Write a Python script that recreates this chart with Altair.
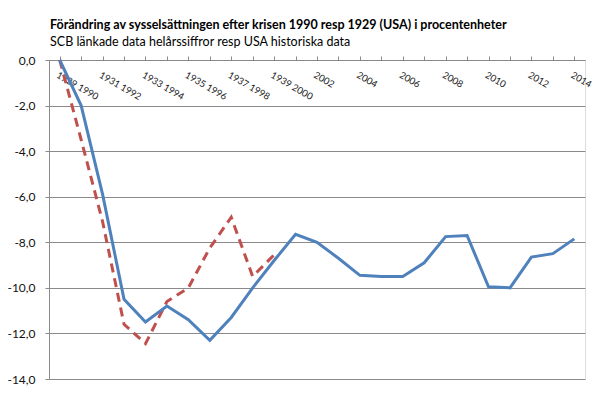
import json
import altair as alt
import pandas as pd

categories = ["1929 1990", "1930 1991", "1931 1992", "1932 1993", "1933 1994", "1934 1995",
              "1935 1996", "1936 1997", "1937 1998", "1938 1999", "1939 2000", "2001", "2002",
              "2003", "2004", "2005", "2006", "2007", "2008", "2009", "2010", "2011", "2012",
              "2013", "2014"]
shown_labels = ["1929 1990", "1931 1992", "1933 1994", "1935 1996", "1937 1998", "1939 2000",
                "2002", "2004", "2006", "2008", "2010", "2012", "2014"]
sverige = [0.0, -2.0, -5.9, -10.5, -11.5, -10.8, -11.4, -12.3, -11.3, -10.0, -8.8, -7.65,
           -8.0, -8.7, -9.45, -9.5, -9.5, -8.9, -7.75, -7.7, -9.95, -10.0, -8.65, -8.5, -7.85]
usa = [0.0, -3.5, -7.1, -11.6, -12.45, -10.6, -10.0, -8.25, -6.9, -9.5, -8.55]
y_ticks = [0, -2, -4, -6, -8, -10, -12, -14]

FONT = "Lato"
GRID = "#8a8a8a"

df_se = pd.DataFrame({"cat": categories, "v": sverige})
df_us = pd.DataFrame({"cat": categories[:len(usa)], "v": usa})

label_expr = "indexof(" + json.dumps(shown_labels) + ", datum.value) >= 0 ? datum.label : ''"

x_enc = alt.X("cat:N", sort=categories,
              scale=alt.Scale(domain=categories, paddingInner=0, paddingOuter=0.5),
              axis=alt.Axis(orient="top", title=None, labelAngle=30, labelAlign="left",
                            labelBaseline="middle", labelPadding=-18, labelOffset=-3,
                            labelFontSize=9.5, labelFont=FONT, labelColor="#222222",
                            labelOverlap=False, labelExpr=label_expr, bandPosition=0,
                            tickSize=4, tickColor=GRID, domainColor=GRID, grid=False))
y_enc = alt.Y("v:Q", scale=alt.Scale(domain=[-14, 0], nice=False),
              axis=alt.Axis(title=None, values=y_ticks, tickSize=4, tickColor=GRID,
                            domainColor=GRID, gridColor=GRID, gridWidth=1,
                            labelFontSize=12, labelFont=FONT, labelColor="#111111", labelPadding=10,
                            labelExpr="replace(replace(format(datum.value, '.1f'), '.', ','), '\u2212', '-')"))

blue = alt.Chart(df_se).mark_line(color="#4F81BD", strokeWidth=3, clip=False).encode(x=x_enc, y=y_enc)
red = alt.Chart(df_us).mark_line(color="#C0504D", strokeWidth=3, strokeDash=[9, 6], clip=False).encode(x=x_enc, y=y_enc)

chart = alt.layer(red, blue).properties(
    width=536, height=319,
    autosize=alt.AutoSizeParams(type="none"),
    padding={"left": 41, "top": 52, "right": 13, "bottom": 10},
    title=alt.TitleParams(
        text="Förändring av sysselsättningen  efter krisen 1990 resp 1929 (USA)  i procentenheter",
        subtitle="SCB länkade data helårssiffror resp USA historiska data",
        anchor="start", frame="group", dx=1, offset=6,
        font=FONT, fontSize=12.5, fontWeight="bold", color="#000000",
        subtitleFont=FONT, subtitleFontSize=12.5, subtitleColor="#000000", subtitlePadding=4),
).configure_view(stroke=None).configure(background="white")

chart.save("out.html", embed_options={"renderer": "svg", "actions": False})
